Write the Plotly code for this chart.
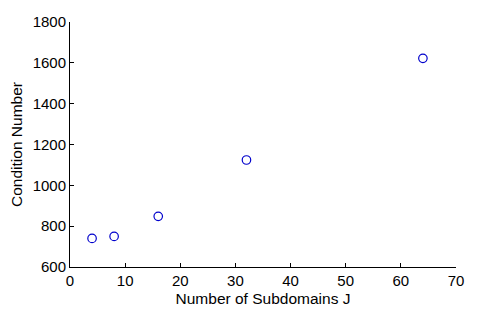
import plotly.graph_objects as go

subdomains = [4, 8, 16, 32, 64]
condition_number = [740, 750, 848, 1124, 1622]
x_ticks = [0, 10, 20, 30, 40, 50, 60, 70]
y_ticks = [600, 800, 1000, 1200, 1400, 1600, 1800]

fig = go.Figure(go.Scatter(
    x=subdomains, y=condition_number, mode="markers",
    marker=dict(symbol="circle-open", size=8.5, color="#0000cc", line=dict(width=1.2, color="#0000cc")),
))

font = dict(family="Liberation Sans, Arial, sans-serif", size=15, color="black")
title_font = dict(family="Liberation Sans, Arial, sans-serif", size=15.5, color="black")
# page body has an 8px default margin, so the figure is drawn 8px smaller
fig.update_layout(
    width=496, height=304,
    margin=dict(l=62, r=48, t=14, b=45, autoexpand=False),
    paper_bgcolor="white", plot_bgcolor="white",
    showlegend=False, font=font,
    xaxis=dict(range=[0, 70], tickvals=x_ticks, showgrid=False, zeroline=False,
               showline=True, linecolor="black", linewidth=1, ticks="inside", ticklen=4,
               tickcolor="black", tickfont=font,
               title=dict(text="Number of Subdomains J", standoff=5, font=title_font),
               fixedrange=True),
    yaxis=dict(range=[600, 1800], tickvals=y_ticks, showgrid=False, zeroline=False,
               showline=True, linecolor="black", linewidth=1, ticks="inside", ticklen=4,
               tickcolor="black", tickfont=font,
               title=dict(text="Condition Number", standoff=15, font=title_font),
               fixedrange=True),
)

fig.write_html("out.html")
